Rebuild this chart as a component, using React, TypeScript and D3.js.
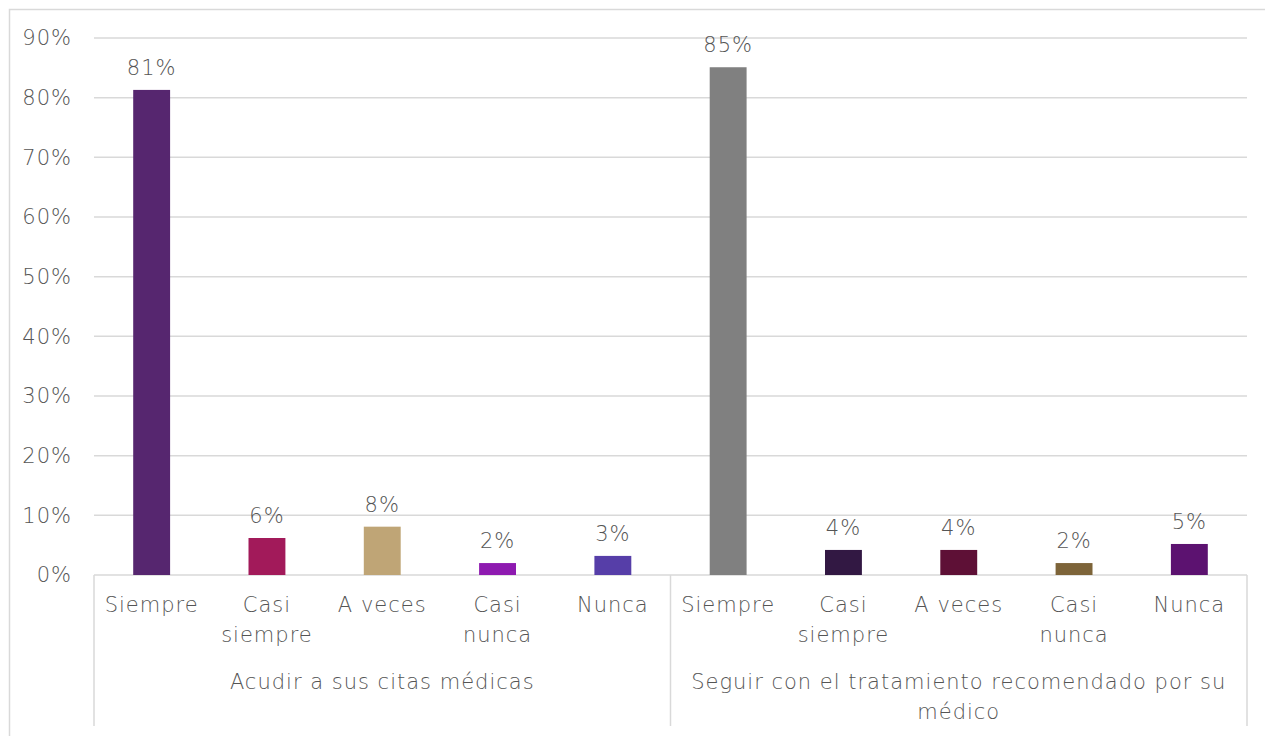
import React from "react";
import * as d3 from "d3";

const groups = ["Acudir a sus citas médicas", "Seguir con el tratamiento recomendado por su médico"];
const groupLines = [["Acudir a sus citas médicas"], ["Seguir con el tratamiento recomendado por su", "médico"]];
const answers = ["Siempre", "Casi siempre", "A veces", "Casi nunca", "Nunca"];
const answerLines = [["Siempre"], ["Casi", "siempre"], ["A veces"], ["Casi", "nunca"], ["Nunca"]];
const valuesG1 = [0.813, 0.062, 0.081, 0.02, 0.032];
const valuesG2 = [0.851, 0.042, 0.042, 0.02, 0.052];
const labelsG1 = ["81%", "6%", "8%", "2%", "3%"];
const labelsG2 = ["85%", "4%", "4%", "2%", "5%"];
const colorsG1 = ["#56266f", "#a21a5a", "#bfa576", "#8e1ab0", "#563ea8"];
const colorsG2 = ["#808080", "#321843", "#5e1036", "#7d6439", "#5c1270"];
const yTicks = [0, 0.1, 0.2, 0.3, 0.4, 0.5, 0.6, 0.7, 0.8, 0.9];

const W = 1265, H = 736;
const L = 94, R = 1247, T = 38, B = 575;
const FONT = "'Century Gothic', 'URW Gothic', 'DejaVu Sans', sans-serif";
const TXT = "#555555";
const GRID = "#d9d9d9";
const FS = 21;
const LS = 1.0;

export default function App() {
  const items = groups.flatMap((g, gi) =>
    answers.map((a, ai) => ({
      key: `${gi}-${ai}`,
      gi, ai,
      value: gi === 0 ? valuesG1[ai] : valuesG2[ai],
      label: gi === 0 ? labelsG1[ai] : labelsG2[ai],
      color: gi === 0 ? colorsG1[ai] : colorsG2[ai],
    }))
  );
  const x = d3.scaleBand<string>().domain(items.map(d => d.key)).range([L, R]).paddingInner(0.68).paddingOuter(0.34);
  const y = d3.scaleLinear().domain([0, 0.9]).range([B, T]);
  const fmt = d3.format(".0%");
  const groupW = (R - L) / groups.length;

  return (
    <svg width={W} height={H} style={{ position: "absolute", left: 0, top: 0 }} fontFamily={FONT} fontWeight={200} letterSpacing={LS}>
      <rect x={0} y={0} width={W} height={H} fill="#fff" />
      <rect x={9.5} y={9.5} width={W + 10} height={H + 10} fill="none" stroke={GRID} strokeWidth={1.5} />
      {yTicks.map(t => (
        <g key={t}>
          <line x1={L} x2={R} y1={y(t)} y2={y(t)} stroke={GRID} strokeWidth={1.5} />
          <text x={72} y={y(t)} dy="0.35em" textAnchor="end" fontSize={FS} fill={TXT}>{fmt(t)}</text>
        </g>
      ))}
      {items.map(d => (
        <g key={d.key}>
          <rect x={x(d.key)} y={y(d.value)} width={x.bandwidth()} height={B - y(d.value)} fill={d.color} />
          <text x={(x(d.key) as number) + x.bandwidth() / 2} y={y(d.value) - 15} textAnchor="middle" fontSize={FS} fill={TXT}>{d.label}</text>
          {answerLines[d.ai].map((ln, li) => (
            <text key={li} x={(x(d.key) as number) + x.bandwidth() / 2} y={612 + li * 30} textAnchor="middle" fontSize={FS} fill={TXT}>{ln}</text>
          ))}
        </g>
      ))}
      {[0, 1, 2].map(i => (
        <line key={i} x1={L + i * groupW} x2={L + i * groupW} y1={B} y2={726} stroke={GRID} strokeWidth={1.5} />
      ))}
      {groupLines.map((lines, gi) =>
        lines.map((ln, li) => (
          <text key={`${gi}-${li}`} x={L + groupW * (gi + 0.5)} y={689 + li * 30} textAnchor="middle" fontSize={FS} fill={TXT}>{ln}</text>
        ))
      )}
    </svg>
  );
}
